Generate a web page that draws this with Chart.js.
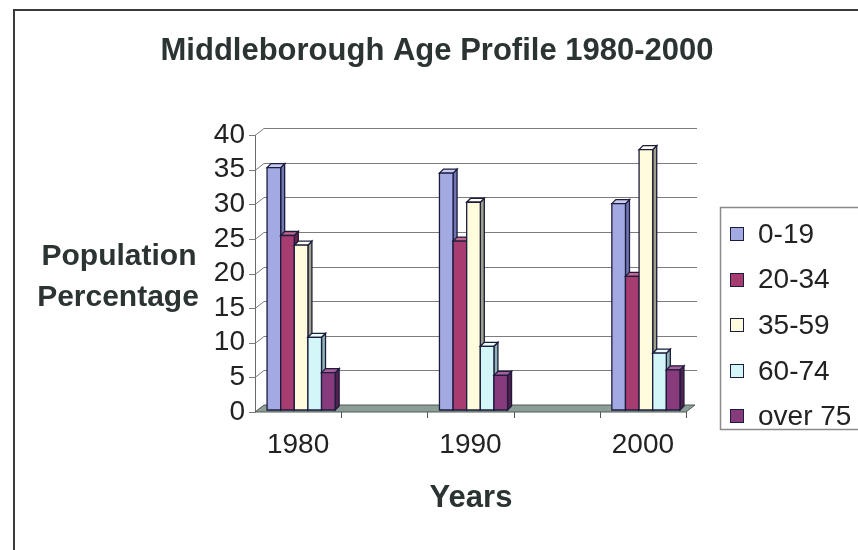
<!DOCTYPE html>
<html>
<head>
<meta charset="utf-8">
<title>Middleborough Age Profile 1980-2000</title>
<script src="https://cdn.jsdelivr.net/npm/chart.js@4.4.0/dist/chart.umd.min.js"></script>
<style>
  html, body { margin: 0; padding: 0; background: #ffffff; }
  #wrap { width: 858px; height: 550px; position: relative; }
</style>
</head>
<body>
<div id="wrap"><canvas id="c" width="858" height="550"></canvas></div>
<script>
// Census years and the share of population (%) in each age band
const years = ['1980', '1990', '2000'];
const ageGroups = ['0-19', '20-34', '35-59', '60-74', 'over 75'];
const age0to19 = [35, 34.2, 29.8];
const age20to34 = [25.2, 24.4, 19.3];
const age35to59 = [23.8, 30, 37.6];
const age60to74 = [10.5, 9.2, 8.2];
const age75plus = [5.4, 5.0, 5.8];
const yTicks = [0, 5, 10, 15, 20, 25, 30, 35, 40];

const chartTitle = 'Middleborough Age Profile 1980-2000';
const yTitleLines = ['Population', 'Percentage'];
const xTitle = 'Years';

// face colours: front, side, top
const palette = [
  { front: '#a3a9e2', side: '#6f76b2', top: '#c9ccf2' },
  { front: '#a63c70', side: '#6a1f47', top: '#c56890' },
  { front: '#fefcdc', side: '#9ea08a', top: '#fffff2' },
  { front: '#d3f6f8', side: '#8db3b5', top: '#ecffff' },
  { front: '#873a7c', side: '#52204c', top: '#a95e9c' }
];

const FONT = '"Liberation Sans", Arial, Helvetica, sans-serif';
const INK = '#2b3333';

// Years sit in every other slot, leaving empty floor between them
const slotLabels = [];
years.forEach((y, i) => { if (i > 0) slotLabels.push(''); slotLabels.push(y); });
function spread(values) {
  const out = [];
  values.forEach((v, i) => { if (i > 0) out.push(null); out.push(v); });
  return out;
}
const series = [age0to19, age20to34, age35to59, age60to74, age75plus];

const WALL_DX = 9, WALL_DY = 7;   // depth of the floor / back wall
const BAR_DX = 4, BAR_DY = 4;     // depth of each column
const BAR_OX = 3, BAR_OY = 2;     // columns stand part-way into the floor

function poly(ctx, pts, fill, stroke, lw) {
  ctx.beginPath();
  ctx.moveTo(pts[0][0], pts[0][1]);
  for (let i = 1; i < pts.length; i++) ctx.lineTo(pts[i][0], pts[i][1]);
  ctx.closePath();
  if (fill) { ctx.fillStyle = fill; ctx.fill(); }
  if (stroke) { ctx.strokeStyle = stroke; ctx.lineWidth = lw || 1; ctx.stroke(); }
}

const pseudo3d = {
  id: 'pseudo3d',
  beforeDraw(chart) {
    const ctx = chart.ctx;
    ctx.save();
    ctx.fillStyle = '#ffffff';
    ctx.fillRect(0, 0, chart.width, chart.height);
    // outer frame
    ctx.strokeStyle = '#3a3a3a';
    ctx.lineWidth = 2;
    ctx.strokeRect(14, 10, chart.width + 20, chart.height + 20);
    // titles
    ctx.fillStyle = INK;
    ctx.textBaseline = 'alphabetic';
    ctx.textAlign = 'center';
    ctx.font = 'bold 31px ' + FONT;
    ctx.fillText(chartTitle, 437, 60);
    ctx.font = 'bold 30px ' + FONT;
    ctx.fillText(yTitleLines[0], 119, 265);
    ctx.fillText(yTitleLines[1], 118, 306);
    ctx.font = 'bold 31px ' + FONT;
    ctx.fillText(xTitle, 471, 507);
    ctx.restore();
  },
  beforeDatasetsDraw(chart) {
    const ctx = chart.ctx;
    const area = chart.chartArea;
    const ys = chart.scales.y;
    ctx.save();
    ctx.lineWidth = 1;
    // left wall edge
    ctx.strokeStyle = '#6a6a6a';
    ctx.beginPath();
    ctx.moveTo(area.left + 0.5, ys.getPixelForValue(40));
    ctx.lineTo(area.left + 0.5, area.bottom);
    ctx.stroke();
    // gridlines on the back wall with ticks slanting back from the axis
    yTicks.forEach(v => {
      const y = Math.round(ys.getPixelForValue(v)) + 0.5;
      ctx.strokeStyle = '#7c7c7c';
      ctx.beginPath();
      ctx.moveTo(area.left - 6, y);
      ctx.lineTo(area.left, y);
      ctx.lineTo(area.left + WALL_DX, y - WALL_DY);
      if (v > 0) ctx.lineTo(area.right + WALL_DX + 2, y - WALL_DY);
      ctx.stroke();
    });
    // floor
    const b = area.bottom;
    poly(ctx, [[area.left, b], [area.right, b], [area.right + WALL_DX, b - WALL_DY], [area.left + WALL_DX, b - WALL_DY]],
      '#8d9e96', '#4f5a56');
    // category tick marks under the front edge of the floor
    const xs = chart.scales.x;
    ctx.strokeStyle = '#555';
    for (let i = 1; i <= slotLabels.length; i++) {
      const x = Math.round(xs.left + (xs.right - xs.left) * i / slotLabels.length) + 0.5;
      ctx.beginPath();
      ctx.moveTo(x, b);
      ctx.lineTo(x, b + 6);
      ctx.stroke();
    }
    // columns, left to right, each as a small prism
    for (let s = 0; s < slotLabels.length; s++) {
      chart.data.datasets.forEach((ds, d) => {
        const v = ds.data[s];
        if (v === null || v === undefined) return;
        const el = chart.getDatasetMeta(d).data[s];
        const p = palette[d];
        const l = el.x - el.width / 2 + BAR_OX;
        const r = el.x + el.width / 2 + BAR_OX;
        const t = el.y - BAR_OY;
        const bt = el.base - BAR_OY;
        const edge = '#1c1c3c';
        poly(ctx, [[r, bt], [r + BAR_DX, bt - BAR_DY], [r + BAR_DX, t - BAR_DY], [r, t]], p.side, edge, 1.3);
        poly(ctx, [[l, t], [l + BAR_DX, t - BAR_DY], [r + BAR_DX, t - BAR_DY], [r, t]], p.top, edge, 1.3);
        poly(ctx, [[l, bt], [r, bt], [r, t], [l, t]], p.front, edge, 1.3);
      });
    }
    ctx.restore();
    return false;
  },
  afterDraw(chart) {
    // legend box on the right
    const ctx = chart.ctx;
    ctx.save();
    ctx.strokeStyle = '#8a8a8a';
    ctx.lineWidth = 1.5;
    ctx.strokeRect(720.5, 207.5, 160, 222);
    ctx.font = '28px ' + FONT;
    ctx.textBaseline = 'middle';
    ctx.textAlign = 'left';
    chart.data.datasets.forEach((ds, d) => {
      const cy = 234 + d * 45.6;
      ctx.fillStyle = palette[d].front;
      ctx.fillRect(730, Math.round(cy - 7), 13, 13);
      ctx.strokeStyle = '#1c1c3c';
      ctx.lineWidth = 1;
      ctx.strokeRect(730.5, Math.round(cy - 7) + 0.5, 13, 13);
      ctx.fillStyle = '#222';
      ctx.fillText(ds.label, 758, cy + 1);
    });
    ctx.restore();
  }
};

new Chart(document.getElementById('c'), {
  type: 'bar',
  data: {
    labels: slotLabels,
    datasets: series.map((vals, d) => ({
      label: ageGroups[d],
      data: spread(vals),
      backgroundColor: palette[d].front,
      borderColor: '#1c1c3c',
      borderWidth: 1,
      categoryPercentage: 0.79,
      barPercentage: 1.0
    }))
  },
  options: {
    responsive: false,
    animation: false,
    devicePixelRatio: 1,
    layout: { padding: { left: 0, right: 172, top: 135, bottom: 0 } },
    plugins: {
      legend: { display: false },
      title: { display: false },
      tooltip: { enabled: false }
    },
    scales: {
      x: {
        grid: { display: false, drawTicks: false },
        border: { display: false },
        ticks: { font: { family: FONT, size: 28 }, color: '#222', padding: 16, maxRotation: 0, autoSkip: false },
        afterFit: s => { s.height = 138; }
      },
      y: {
        min: 0,
        max: 40,
        grid: { display: false, drawTicks: false },
        border: { display: false },
        afterBuildTicks: s => { s.ticks = yTicks.map(v => ({ value: v })); },
        ticks: { font: { family: FONT, size: 28 }, color: '#222', padding: 10, autoSkip: false },
        afterFit: s => { s.width = 255; }
      }
    }
  },
  plugins: [pseudo3d]
});
</script>
</body>
</html>
